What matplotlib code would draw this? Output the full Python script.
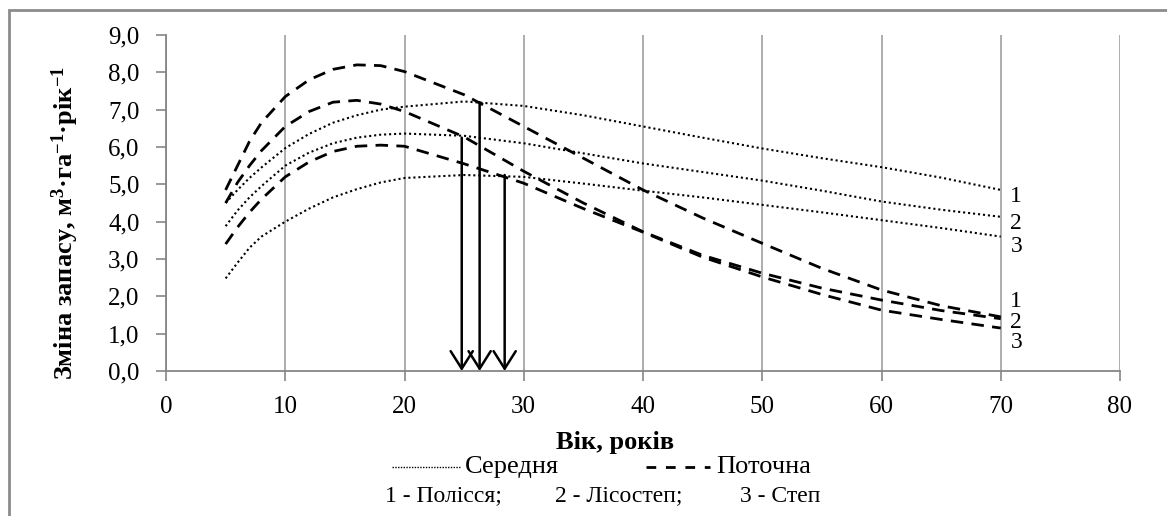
import matplotlib
matplotlib.use('Agg')
import matplotlib.pyplot as plt
from matplotlib.patches import Rectangle
from matplotlib.lines import Line2D

plt.rcParams['font.family'] = ['Liberation Serif', 'DejaVu Serif']
plt.rcParams['mathtext.fontset'] = 'custom'
plt.rcParams['mathtext.rm'] = 'Liberation Serif:bold'
plt.rcParams['mathtext.default'] = 'rm'

# age, years
age = [5, 6, 7, 8, 10, 12, 14, 16, 18, 20, 25, 30, 35, 40, 45, 50, 55, 60, 65, 70]

# mean increment (dotted): 1 - Polissia, 2 - Lisostep, 3 - Step
mean_1 = [4.50, 4.85, 5.17, 5.45, 5.97, 6.35, 6.65, 6.85, 7.00, 7.08, 7.22, 7.10,
          6.85, 6.55, 6.25, 5.96, 5.70, 5.46, 5.18, 4.85]
mean_2 = [3.88, 4.30, 4.65, 4.95, 5.50, 5.85, 6.10, 6.25, 6.33, 6.36, 6.30, 6.10,
          5.83, 5.56, 5.33, 5.10, 4.83, 4.54, 4.32, 4.13]
mean_3 = [2.48, 2.90, 3.30, 3.60, 4.00, 4.35, 4.65, 4.87, 5.05, 5.17, 5.25, 5.20,
          5.02, 4.83, 4.65, 4.45, 4.25, 4.04, 3.83, 3.60]

# current increment (dashed)
cur_1 = [4.85, 5.50, 6.15, 6.65, 7.35, 7.80, 8.08, 8.20, 8.18, 8.02, 7.40, 6.55,
         5.70, 4.85, 4.10, 3.42, 2.75, 2.17, 1.75, 1.45]
cur_2 = [4.50, 5.05, 5.50, 5.90, 6.55, 6.95, 7.20, 7.25, 7.15, 6.95, 6.27, 5.35,
         4.50, 3.73, 3.10, 2.62, 2.22, 1.90, 1.62, 1.40]
cur_3 = [3.40, 3.85, 4.25, 4.60, 5.20, 5.60, 5.88, 6.02, 6.05, 6.02, 5.55, 5.03,
         4.35, 3.72, 3.05, 2.52, 2.05, 1.63, 1.38, 1.15]

# age of culmination (arrows) and increment at that age
arrow_x = [24.8, 26.3, 28.4]
arrow_y = [6.25, 7.20, 5.25]

W, H = 1167, 516
fig = plt.figure(figsize=(W / 100, H / 100), dpi=100)
ax = fig.add_axes([166 / W, 1 - 371 / H, (1120 - 166) / W, (371 - 35) / H])

for s in (mean_1, mean_2, mean_3):
    ax.plot(age, s, color='black', linestyle=(0, (1, 1.4)), linewidth=1.5)
for s in (cur_1, cur_2, cur_3):
    ax.plot(age, s, color='black', linestyle=(0, (4.5, 3)), linewidth=2.0)

for xa, ya in zip(arrow_x, arrow_y):
    ax.annotate('', xy=(xa, 0), xytext=(xa, ya),
                arrowprops=dict(arrowstyle='->, head_length=0.6, head_width=0.38',
                                color='black', lw=1.8, mutation_scale=21,
                                shrinkA=0, shrinkB=0))

# curve numbers at the right end
for lab, yv in zip(['1', '2', '3'], [4.67, 3.96, 3.33]):
    ax.text(71.3, yv, lab, fontsize=17, ha='center', va='center')
for lab, yv in zip(['1', '2', '3'], [1.85, 1.30, 0.76]):
    ax.text(71.3, yv, lab, fontsize=17, ha='center', va='center')

ax.set_xlim(0, 80)
ax.set_ylim(0, 9)
ax.set_xticks(range(0, 81, 10))
ax.set_yticks(range(0, 10))
ax.set_yticklabels([f'{v},0' for v in range(0, 10)])
ax.tick_params(axis='both', labelsize=18, color='#868686', length=7, width=1.2,
               direction='out')
ax.tick_params(axis='x', pad=11)
ax.tick_params(axis='y', pad=12)
ax.grid(axis='x', color='#a0a0a0', linewidth=1.2)
ax.set_axisbelow(True)
for side in ('top', 'right'):
    ax.spines[side].set_visible(False)
for side in ('left', 'bottom'):
    ax.spines[side].set_color('#868686')
    ax.spines[side].set_linewidth(1.3)

fig.text(65 / W, 1 - 223 / H,
         'Зміна запасу, м$^{3}$·га$^{-1}$·рік$^{-1}$',
         rotation=90, fontsize=19, fontweight='bold', ha='center', va='center')
fig.text(615 / W, 1 - 442 / H, 'Вік, років', fontsize=19,
         fontweight='bold', ha='center', va='center')

# legend
ly = 1 - 467 / H
fig.add_artist(Line2D([392 / W, 460 / W], [ly, ly],
                      color='black', linestyle=(0, (1, 1)), linewidth=1.0))
fig.text(465 / W, ly, 'Середня', fontsize=19, va='center')
fig.add_artist(Line2D([646 / W, 710 / W], [ly, ly],
                      color='black', linestyle=(0, (3.5, 3.5)), linewidth=2.0))
fig.text(716 / W, ly, 'Поточна', fontsize=19, va='center')

by = 1 - 496 / H
fig.text(385 / W, by, '1 - Полісся;', fontsize=17, va='center')
fig.text(555 / W, by, '2 - Лісостеп;', fontsize=17, va='center')
fig.text(740 / W, by, '3 - Степ', fontsize=17, va='center')

# chart frame
fig.add_artist(Rectangle((9 / W, -0.1), 1.2, 1.1 - 10 / H,
                         transform=fig.transFigure, fill=False,
                         edgecolor='#8c8c8c', linewidth=2))

fig.savefig('out.png', dpi=100)
